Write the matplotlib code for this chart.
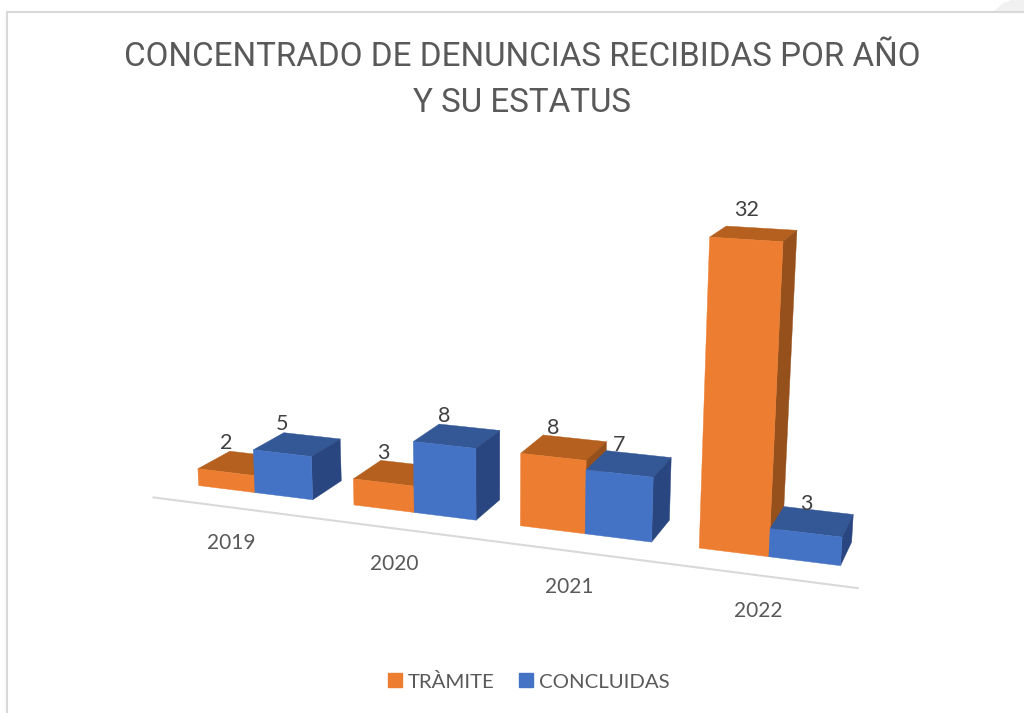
import numpy as np
import matplotlib
matplotlib.use("Agg")
import matplotlib.pyplot as plt
from matplotlib.patches import Polygon, Patch

plt.rcParams['font.family'] = ['Lato', 'DejaVu Sans']

title = "CONCENTRADO DE DENUNCIAS RECIBIDAS POR AÑO\nY SU ESTATUS"
years = ["2019", "2020", "2021", "2022"]
tramite = [2, 3, 8, 32]
concluidas = [5, 8, 7, 3]
series_names = ["TRÀMITE", "CONCLUIDAS"]

# Perspective camera: world (position along axis, depth, value) -> pixels
CAM = np.array([[53.104943, 40.011202, -0.68145068, 198.71574],
                [0.90879149, -1.4251665, -9.0646720, 485.56701],
                [-0.012417478, 0.035539423, -0.0013729430, 1.0]])
PITCH = 2.7      # category spacing, in bar widths
GAP = 0.35       # half gap at either end of the axis
AXIS_DEPTH = -0.75


def project(X, Y, Z):
    h = CAM @ np.array([X, Y, Z, 1.0])
    return h[0] / h[2], h[1] / h[2]


fig = plt.figure(figsize=(10.24, 7.13), dpi=100)
ax = fig.add_axes([0, 0, 1, 1])
ax.set_xlim(0, 1024)
ax.set_ylim(713, 0)
ax.axis('off')

# chart frame and corner shadow
ax.add_patch(Polygon([(993, 12), (1003, 3), (1012, 0), (1024, 0), (1024, 12)], fc='#F1F1F1', ec='none'))
ax.plot([7, 7, 1024], [713, 12, 12], color='#D9D9D9', lw=1.5, solid_joinstyle='miter')

ax.text(522, 80.5, title, ha='center', va='center', fontsize=23.9, color='#595959', linespacing=1.56,
        family=['Roboto', 'DejaVu Sans'])

# axis line
ax.plot(*zip(project(-GAP, AXIS_DEPTH, 0), project(3 * PITCH + 2 + GAP, AXIS_DEPTH, 0)),
        color='#D9D9D9', lw=1.5)


def bar(X, v, cf, ct, cs):
    f = [(X, 0, 0), (X + 1, 0, 0), (X + 1, 0, v), (X, 0, v)]
    t = [(X, 0, v), (X + 1, 0, v), (X + 1, 1, v), (X, 1, v)]
    s = [(X + 1, 0, 0), (X + 1, 1, 0), (X + 1, 1, v), (X + 1, 0, v)]
    for q, c in ((t, ct), (s, cs), (f, cf)):
        ax.add_patch(Polygon([project(*p) for p in q], fc=c, ec=c, lw=0.3))
    ax.annotate(str(v), project(X + 0.5, 0, v), xytext=(0, 29), textcoords='offset pixels',
                ha='center', va='center', fontsize=15.5, color='#404040', zorder=5)


for i, y in enumerate(years):
    bar(i * PITCH, tramite[i], '#ED7D31', '#B5601F', '#96501C')
    bar(i * PITCH + 1, concluidas[i], '#4472C4', '#345896', '#2A4680')
    ax.annotate(y, project(i * PITCH + 1, AXIS_DEPTH, 0), xytext=(0, -36), textcoords='offset pixels',
                ha='center', va='center', fontsize=15, color='#595959')

ax.legend(handles=[Patch(color='#ED7D31', label=series_names[0]), Patch(color='#4472C4', label=series_names[1])],
          loc='center', bbox_to_anchor=(529 / 1024, 1 - 681.5 / 713), ncol=2, frameon=False, fontsize=14.7,
          labelcolor='#595959', handlelength=0.66, handleheight=0.66, handletextpad=0.3, columnspacing=1.2)

fig.savefig('out.png', dpi=100)
